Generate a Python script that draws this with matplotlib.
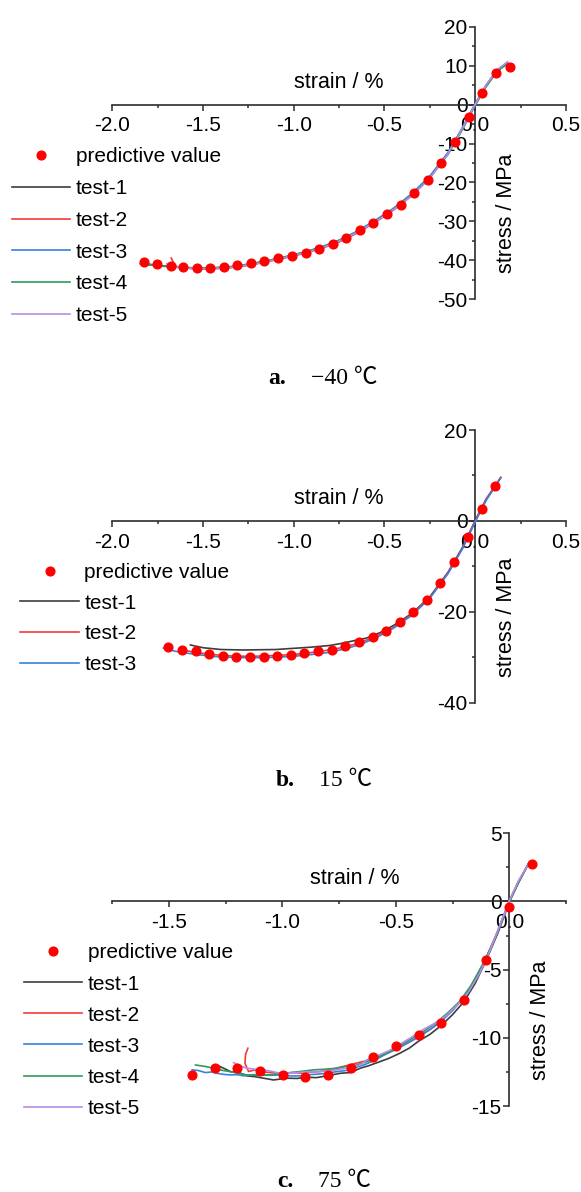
import matplotlib
matplotlib.use("Agg")
import matplotlib.pyplot as plt
from matplotlib.ticker import MultipleLocator

SANS = ['Liberation Sans', 'DejaVu Sans']
SERIF = ['Liberation Serif', 'Noto Sans CJK SC', 'DejaVu Serif']
plt.rcParams['font.family'] = SANS

# ---------------- data: panel a (-40 C) ----------------
A_PRED_X = [-1.827, -1.751, -1.676, -1.610, -1.535, -1.461, -1.386, -1.310, -1.235, -1.161,
            -1.086, -1.010, -0.935, -0.861, -0.786, -0.710, -0.635, -0.561, -0.486, -0.410,
            -0.337, -0.261, -0.186, -0.110, -0.035, 0.039, 0.116, 0.190]
A_PRED_Y = [-40.3, -40.9, -41.4, -41.7, -42.0, -41.9, -41.7, -41.2, -40.7, -40.1,
            -39.5, -38.8, -38.0, -37.0, -35.8, -34.3, -32.3, -30.4, -28.2, -25.7,
            -22.8, -19.3, -15.0, -9.6, -3.2, 3.1, 8.0, 9.6]

A_T1_X = [-1.84, -1.75, -1.65, -1.55, -1.45, -1.35, -1.25, -1.15, -1.05, -0.95, -0.85, -0.75,
          -0.65, -0.55, -0.45, -0.35, -0.25, -0.15, -0.08, 0.0, 0.06, 0.12, 0.175]
A_T1_Y = [-40.8, -41.3, -41.7, -42.0, -42.0, -41.7, -41.0, -40.2, -39.2, -38.1, -36.8, -35.0,
          -32.7, -29.9, -26.8, -23.1, -18.5, -12.4, -6.8, 0.1, 4.9, 8.8, 10.7]
A_T2_X = [-1.675, -1.662, -1.645, -1.55, -1.45, -1.35, -1.25, -1.15, -1.05, -0.95, -0.85, -0.75,
          -0.65, -0.55, -0.45, -0.35, -0.25, -0.15, -0.08, 0.0, 0.06, 0.12, 0.176]
A_T2_Y = [-39.4, -40.6, -41.6, -42.2, -42.2, -41.9, -41.3, -40.4, -39.4, -38.3, -37.0, -35.3,
          -33.0, -30.2, -27.1, -23.4, -18.8, -12.6, -7.0, 0.0, 4.7, 8.6, 10.6]
A_T3_X = [-1.845, -1.75, -1.65, -1.55, -1.45, -1.35, -1.25, -1.15, -1.05, -0.95, -0.85, -0.75,
          -0.65, -0.55, -0.45, -0.35, -0.25, -0.15, -0.08, 0.0, 0.06, 0.12, 0.178]
A_T3_Y = [-40.9, -41.4, -41.8, -42.1, -42.1, -41.8, -41.1, -40.2, -39.2, -38.0, -36.6, -34.8,
          -32.5, -29.7, -26.6, -22.9, -18.4, -12.3, -6.7, 0.2, 5.0, 8.8, 10.8]
A_T4_X = [-1.80, -1.75, -1.65, -1.55, -1.45, -1.35, -1.25, -1.15, -1.05, -0.95, -0.85, -0.75,
          -0.65, -0.55, -0.45, -0.35, -0.25, -0.15, -0.08, 0.0, 0.06, 0.12, 0.178]
A_T4_Y = [-41.0, -41.3, -41.7, -41.9, -41.9, -41.6, -41.0, -40.1, -39.1, -38.0, -36.7, -34.9,
          -32.7, -30.0, -26.9, -23.3, -18.8, -12.8, -7.2, -0.2, 4.6, 8.5, 10.5]
A_T5_X = [-1.70, -1.65, -1.55, -1.45, -1.35, -1.25, -1.15, -1.05, -0.95, -0.85, -0.75,
          -0.65, -0.55, -0.45, -0.35, -0.25, -0.15, -0.08, 0.0, 0.06, 0.12, 0.178]
A_T5_Y = [-40.9, -41.7, -42.1, -42.1, -41.8, -41.2, -40.3, -39.3, -38.2, -36.9, -35.1,
          -32.8, -30.1, -27.0, -23.4, -18.9, -12.6, -6.9, 0.1, 5.0, 8.9, 11.0]

# ---------------- data: panel b (15 C) ----------------
B_PRED_X = [-1.690, -1.616, -1.541, -1.465, -1.392, -1.316, -1.241, -1.165, -1.090, -1.016,
            -0.941, -0.865, -0.790, -0.716, -0.641, -0.565, -0.490, -0.416, -0.341, -0.265,
            -0.192, -0.116, -0.041, 0.035, 0.110]
B_PRED_Y = [-27.7, -28.3, -28.7, -29.2, -29.7, -29.9, -29.95, -29.9, -29.7, -29.4,
            -29.1, -28.7, -28.3, -27.5, -26.7, -25.5, -24.2, -22.2, -20.1, -17.4,
            -13.7, -9.0, -3.5, 2.6, 7.7]

B_T1_X = [-1.569, -1.50, -1.40, -1.28, -1.10, -0.91, -0.80, -0.73, -0.65, -0.60, -0.525,
          -0.45, -0.35, -0.25, -0.15, -0.07, 0.0, 0.06, 0.14]
B_T1_Y = [-27.3, -27.9, -28.3, -28.4, -28.3, -27.8, -27.4, -26.9, -26.2, -25.8, -24.6,
          -23.0, -20.4, -16.7, -11.3, -5.8, 0.1, 4.8, 9.5]
B_T2_X = [-1.63, -1.55, -1.45, -1.35, -1.25, -1.15, -1.05, -0.95, -0.85, -0.75, -0.65,
          -0.55, -0.45, -0.35, -0.25, -0.15, -0.07, 0.0, 0.06, 0.141]
B_T2_Y = [-28.2, -28.9, -29.4, -29.7, -29.8, -29.7, -29.5, -29.2, -28.7, -28.0, -27.0,
          -25.5, -23.4, -20.6, -16.9, -11.4, -6.0, 0.0, 4.7, 9.6]
B_T3_X = [-1.718, -1.65, -1.553, -1.45, -1.369, -1.25, -1.186, -1.10, -1.002, -0.90, -0.818,
          -0.72, -0.635, -0.55, -0.45, -0.35, -0.25, -0.15, -0.07, 0.0, 0.06, 0.138]
B_T3_Y = [-28.0, -28.7, -29.3, -29.8, -30.0, -30.1, -30.1, -30.0, -29.8, -29.4, -29.0,
          -28.2, -27.2, -25.8, -23.6, -20.8, -17.0, -11.6, -6.1, -0.2, 4.5, 9.3]

# ---------------- data: panel c (75 C) ----------------
C_PRED_X = [-1.400, -1.299, -1.198, -1.098, -0.999, -0.900, -0.800, -0.699, -0.600, -0.500,
            -0.399, -0.302, -0.200, -0.101, 0.0, 0.099]
C_PRED_Y = [-12.71, -12.18, -12.18, -12.40, -12.71, -12.84, -12.71, -12.18, -11.42, -10.59,
            -9.80, -8.88, -7.21, -4.28, -0.37, 2.74]

C_T1_X = [-1.281, -1.25, -1.229, -1.19, -1.156, -1.12, -1.083, -1.039, -0.98, -0.935, -0.892,
          -0.85, -0.804, -0.745, -0.70, -0.657, -0.62, -0.569, -0.53, -0.481, -0.44, -0.40,
          -0.35, -0.30, -0.25, -0.20, -0.15, -0.10, -0.05, 0.0, 0.04, 0.082]
C_T1_Y = [-12.06, -12.30, -12.48, -12.55, -12.79, -12.85, -12.96, -13.09, -12.96, -12.98, -12.89,
          -12.92, -12.79, -12.60, -12.55, -12.23, -12.05, -11.74, -11.50, -11.12, -10.75, -10.25,
          -9.75, -9.10, -8.30, -7.35, -6.00, -4.25, -2.30, -0.05, 1.35, 2.70]
C_T2_X = [-1.152, -1.162, -1.165, -1.155, -1.149, -1.12, -1.097, -1.05, -1.009, -0.95, -0.907,
          -0.87, -0.833, -0.78, -0.72, -0.66, -0.60, -0.55, -0.50, -0.45, -0.40, -0.35,
          -0.30, -0.25, -0.20, -0.15, -0.10, -0.05, 0.0, 0.04, 0.085]
C_T2_Y = [-10.76, -11.20, -11.86, -12.25, -12.47, -12.35, -12.48, -12.55, -12.60, -12.55, -12.60,
          -12.50, -12.48, -12.30, -12.05, -11.80, -11.55, -11.20, -10.80, -10.40, -9.90, -9.40,
          -8.75, -7.95, -7.00, -5.75, -4.05, -2.15, 0.05, 1.45, 2.78]
C_T3_X = [-1.398, -1.37, -1.339, -1.31, -1.288, -1.26, -1.229, -1.20, -1.171, -1.13, -1.097,
          -1.05, -1.009, -0.96, -0.921, -0.88, -0.833, -0.80, -0.760, -0.72, -0.687, -0.64,
          -0.60, -0.55, -0.50, -0.45, -0.40, -0.35, -0.30, -0.25, -0.20, -0.15, -0.10, -0.05,
          0.0, 0.04, 0.084]
C_T3_Y = [-12.35, -12.40, -12.55, -12.50, -12.60, -12.68, -12.72, -12.70, -12.79, -12.70, -12.72,
          -12.75, -12.72, -12.80, -12.79, -12.70, -12.65, -12.58, -12.48, -12.40, -12.23, -11.98,
          -11.70, -11.25, -10.85, -10.40, -9.95, -9.40, -8.80, -8.00, -7.05, -5.80, -4.10, -2.20,
          0.0, 1.40, 2.72]
C_T4_X = [-1.383, -1.34, -1.303, -1.26, -1.229, -1.19, -1.156, -1.11, -1.068, -1.02, -0.965,
          -0.91, -0.863, -0.81, -0.760, -0.72, -0.672, -0.62, -0.57, -0.52, -0.47, -0.42,
          -0.37, -0.32, -0.27, -0.22, -0.17, -0.12, -0.07, -0.03, 0.0, 0.04, 0.083]
C_T4_Y = [-11.99, -12.10, -12.23, -12.40, -12.48, -12.62, -12.72, -12.75, -12.72, -12.66, -12.55,
          -12.45, -12.35, -12.30, -12.23, -12.10, -11.99, -11.70, -11.35, -10.95, -10.45, -9.95,
          -9.45, -8.85, -8.15, -7.35, -6.20, -4.70, -3.00, -1.25, -0.02, 1.40, 2.72]
C_T5_X = [-1.215, -1.19, -1.156, -1.12, -1.083, -1.05, -1.009, -0.97, -0.936, -0.89, -0.848,
          -0.80, -0.760, -0.71, -0.657, -0.628, -0.58, -0.53, -0.48, -0.43, -0.38, -0.33,
          -0.28, -0.23, -0.18, -0.13, -0.09, -0.05, 0.0, 0.04, 0.086]
C_T5_Y = [-11.82, -12.05, -12.23, -12.30, -12.35, -12.45, -12.60, -12.58, -12.55, -12.50, -12.48,
          -12.42, -12.35, -12.20, -11.99, -11.62, -11.30, -10.95, -10.45, -9.95, -9.40, -8.95,
          -8.40, -7.60, -6.65, -5.25, -3.80, -2.10, 0.05, 1.50, 2.80]

# ---------------- text ----------------
LEGEND_PRED = 'predictive value'
TEST_LABELS = ['test-1', 'test-2', 'test-3', 'test-4', 'test-5']
X_LABEL = 'strain / %'
Y_LABEL = 'stress / MPa'
CAPTIONS = [('a.', '\u221240 \u2103'), ('b.', '15 \u2103'), ('c.', '75 \u2103')]

TEST_COLORS = ['#3d3d3d', '#f23a3a', '#3a80e0', '#2e9b5a', '#b68be8']
PRED_COLOR = '#ff0000'
AXIS_COLOR = '#2b2b2b'
FS = 14.5

W, H = 581, 1192
fig = plt.figure(figsize=(W / 100, H / 100), dpi=100)


def fx(px):
    return px / W


def fy(py):
    return 1 - py / H


def make_axes(top_px, bottom_px, xlim, ylim, xmaj, ymaj):
    ax = fig.add_axes([fx(112.2), fy(bottom_px), fx(566) - fx(112.2), fy(top_px) - fy(bottom_px)])
    ax.set_xlim(*xlim)
    ax.set_ylim(*ylim)
    for s in ('top', 'right'):
        ax.spines[s].set_visible(False)
    ax.spines['left'].set_position(('data', 0))
    ax.spines['bottom'].set_position(('data', 0))
    for s in ('left', 'bottom'):
        ax.spines[s].set_color(AXIS_COLOR)
        ax.spines[s].set_linewidth(1.2)
    ax.xaxis.set_major_locator(MultipleLocator(xmaj))
    ax.xaxis.set_minor_locator(MultipleLocator(xmaj / 2))
    ax.yaxis.set_major_locator(MultipleLocator(ymaj))
    ax.yaxis.set_minor_locator(MultipleLocator(ymaj / 2))
    ax.xaxis.set_major_formatter(matplotlib.ticker.FormatStrFormatter('%.1f'))
    ax.yaxis.set_major_formatter(matplotlib.ticker.FormatStrFormatter('%d'))
    ax.tick_params(which='both', direction='out', color=AXIS_COLOR, width=1.1)
    ax.tick_params(which='major', length=4, labelsize=FS + 0.5)
    ax.tick_params(which='minor', length=2.5)
    ax.tick_params(axis='x', which='major', pad=4.5)
    ax.tick_params(axis='y', which='major', pad=1.5)
    ax.patch.set_visible(False)
    return ax


def draw_panel(ax, tests, pred, legend_x, legend_top, lspace):
    handles = []
    ph, = ax.plot(pred[0], pred[1], 'o', color=PRED_COLOR, ms=6.3, mec=PRED_COLOR, zorder=5,
                  clip_on=False)
    handles.append(ph)
    for i, (tx, ty) in enumerate(tests):
        h, = ax.plot(tx, ty, '-', color=TEST_COLORS[i], lw=1.2, zorder=3, clip_on=False)
        handles.append(h)
    labels = [LEGEND_PRED] + TEST_LABELS[:len(tests)]
    fig.legend(handles, labels, loc='upper left', bbox_to_anchor=(fx(legend_x), fy(legend_top)),
               bbox_transform=fig.transFigure, frameon=False, borderpad=0, borderaxespad=0,
               handlelength=2.8, handletextpad=0.27, labelspacing=lspace, fontsize=FS + 0.5,
               numpoints=1)


# panel a
ax_a = make_axes(26.7, 299.3, (-2.0, 0.5), (-50, 20), 0.5, 10)
draw_panel(ax_a, [(A_T1_X, A_T1_Y), (A_T2_X, A_T2_Y), (A_T3_X, A_T3_Y), (A_T4_X, A_T4_Y),
                  (A_T5_X, A_T5_Y)], (A_PRED_X, A_PRED_Y), 12, 147.5, 0.61)
fig.text(fx(339), fy(82), X_LABEL, ha='center', va='center', fontsize=FS + 1)
fig.text(fx(507), fy(213), Y_LABEL, ha='center', va='center', rotation=90, fontsize=FS + 1)

# panel b
ax_b = make_axes(430, 702.7, (-2.0, 0.5), (-40, 20), 0.5, 20)
draw_panel(ax_b, [(B_T1_X, B_T1_Y), (B_T2_X, B_T2_Y), (B_T3_X, B_T3_Y)],
           (B_PRED_X, B_PRED_Y), 20.4, 563, 0.56)
fig.text(fx(339), fy(498), X_LABEL, ha='center', va='center', fontsize=FS + 1)
fig.text(fx(507), fy(617), Y_LABEL, ha='center', va='center', rotation=90, fontsize=FS + 1)

# panel c
ax_c = make_axes(833.3, 1106, (-1.75, 0.25), (-15, 5), 0.5, 5)
draw_panel(ax_c, [(C_T1_X, C_T1_Y), (C_T2_X, C_T2_Y), (C_T3_X, C_T3_Y), (C_T4_X, C_T4_Y),
                  (C_T5_X, C_T5_Y)], (C_PRED_X, C_PRED_Y), 24, 943.5, 0.58)
fig.text(fx(355), fy(879), X_LABEL, ha='center', va='center', fontsize=FS + 1)
fig.text(fx(541), fy(1020), Y_LABEL, ha='center', va='center', rotation=90, fontsize=FS + 1)

# captions
cap_pos = [(268.5, 311, 384), (276, 319, 786), (277, 318, 1187)]
for (lab, val), (x1, x2, yb) in zip(CAPTIONS, cap_pos):
    fig.text(fx(x1), fy(yb), lab, ha='left', va='baseline', fontsize=17, fontweight='bold',
             family=SERIF)
    fig.text(fx(x2), fy(yb), val, ha='left', va='baseline', fontsize=17, family=SERIF)

fig.savefig('out.png', dpi=100)
